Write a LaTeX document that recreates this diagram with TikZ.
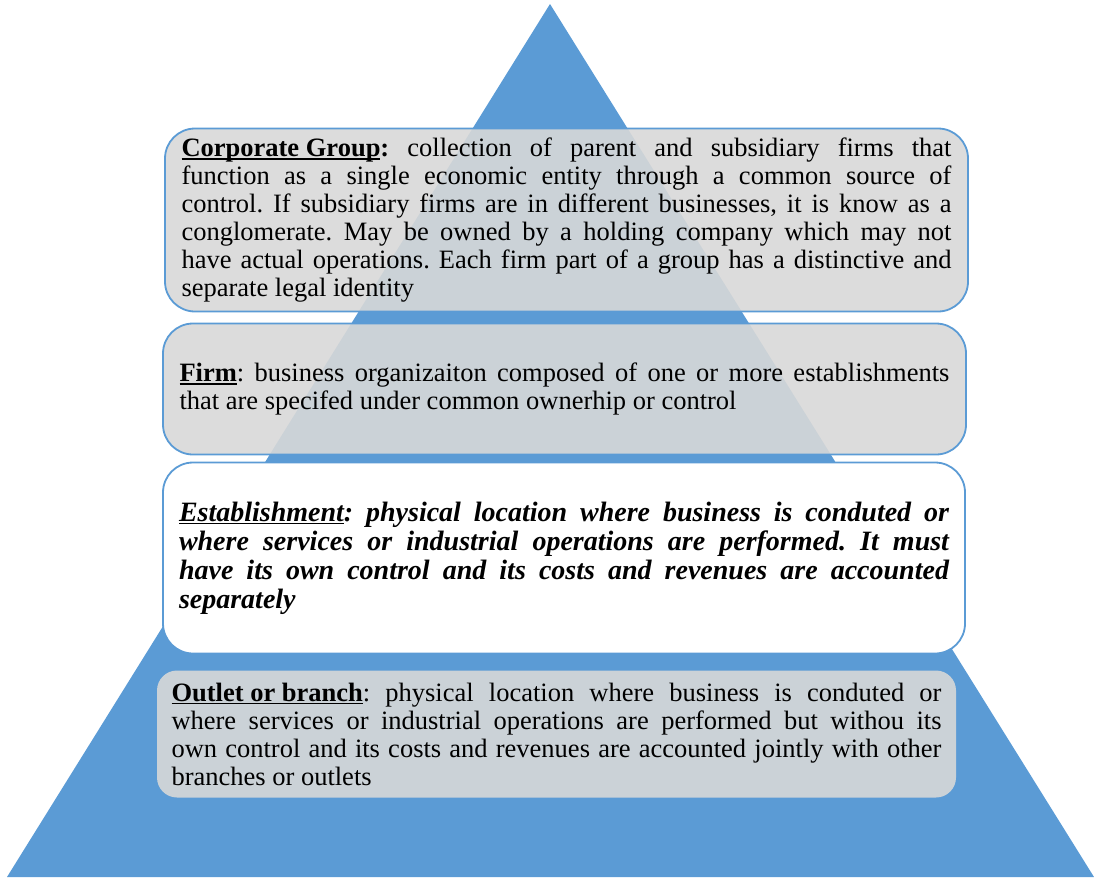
\documentclass[tikz,border=0pt]{standalone}
\usepackage{fontspec}
\setmainfont{Liberation Serif}
\definecolor{pyrblue}{RGB}{91,155,213}
\definecolor{boxgray}{RGB}{216,216,216}
% underlined heading word(s)
\newcommand\tierul[1]{\setbox0\hbox{#1}\rlap{\rule[-3.2pt]{\wd0}{1.6pt}}\box0}
\frenchspacing

\begin{document}
\begin{tikzpicture}[x=1pt,y=-1pt,
  tier/.style={rounded corners=30pt,fill=boxgray,fill opacity=0.9,text opacity=1,
    text width=770pt,align=justify,inner sep=0pt,
    font=\fontsize{26.5}{28}\selectfont},
  tierline/.style={draw=pyrblue,line width=1.8pt}]
\useasboundingbox (0,0) rectangle (1094,879);
\coordinate (T1) at (550,4);
\coordinate (T2) at (1094,877);
\coordinate (T3) at (7,877);
\fill[pyrblue] (T1)--(T2)--(T3)--cycle;
% levels, top to bottom
\node[tier,tierline,minimum width=803pt,minimum height=183pt] (corp) at (566.5,220)
  {\tierul{\textbf{Corporate Group}}\textbf{:} collection of parent and subsidiary firms that\linebreak
   function as a single economic entity through a common source of\linebreak
   control. If subsidiary firms are in different businesses, it is know as a\linebreak
   conglomerate. May be owned by a holding company which may not\linebreak
   have actual operations. Each firm part of a group has a distinctive and\linebreak
   separate legal identity};
\node[tier,tierline,minimum width=803pt,minimum height=131pt] (firm) at (564.5,389)
  {\tierul{\textbf{Firm}}: business organizaiton composed of one or more establishments\linebreak
   that are specifed under common ownerhip or control};
\node[tier,tierline,fill=white,fill opacity=1,minimum width=802pt,minimum height=191pt,
  font=\fontsize{28}{29}\selectfont] (estab) at (564,558)
  {\bfseries\itshape\tierul{Establishment}: physical location where business is conduted or\linebreak
   where services or industrial operations are performed. It must\linebreak
   have its own control and its  costs and revenues are accounted\linebreak
   separately};
\node[tier,rounded corners=20pt,minimum width=799pt,minimum height=127pt] (outlet) at (556.5,734)
  {\tierul{\textbf{Outlet or branch}}: physical location where business is conduted or\linebreak
   where services or industrial operations are performed but withou its\linebreak
   own control and its  costs and revenues are accounted jointly with other\linebreak
   branches or outlets};
\end{tikzpicture}
\end{document}
